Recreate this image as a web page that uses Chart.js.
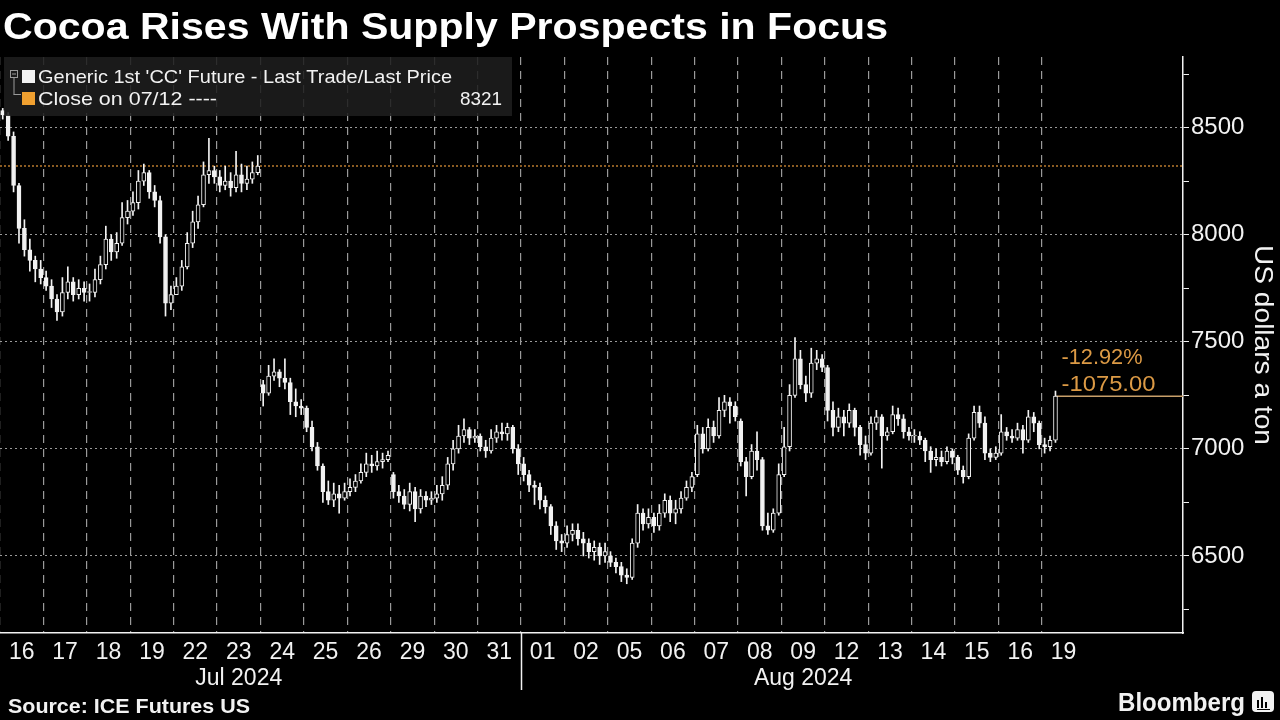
<!DOCTYPE html>
<html lang="en">
<head>
  <meta charset="UTF-8" />
  <title>Cocoa Rises With Supply Prospects in Focus</title>
  <script src="https://cdn.jsdelivr.net/npm/chart.js"></script>
  <style>
    html, body { margin: 0; padding: 0; background: #000; }
    #wrap { width: 1280px; height: 720px; }
  </style>
</head>
<body>
<div id="wrap"><canvas id="chart" width="1280" height="720"></canvas></div>
<script>
  // trading days on the x axis
  const dayLabels = ['16','17','18','19','22','23','24','25','26','29','30','31',
                     '01','02','05','06','07','08','09','12','13','14','15','16','19'];
  const monthLabels = ['Jul 2024', 'Aug 2024'];
  const monthFirstDay = [0, 12];
  const yTicks = [6250, 6500, 6750, 7000, 7250, 7500, 7750, 8000, 8250, 8500, 8750];
  const barsPerDay = 8;

  // intraday bars, one line per trading day
  const opens = [
    8580, 8560, 8460, 8230, 8030, 7930, 7880, 7840,
    7800, 7760, 7700, 7640, 7730, 7780, 7720, 7750,
    7730, 7730, 7790, 7860, 7980, 7920, 7960, 8080,
    8110, 8150, 8250, 8290, 8200, 8160, 7990, 7680,
    7720, 7760, 7850, 7960, 8060, 8140, 8280, 8300,
    8270, 8230, 8250, 8220, 8280, 8240, 8260, 8290,
    7300, 7260, 7340, 7360, 7330, 7310, 7220, 7200,
    7190, 7100, 7010, 6920, 6800, 6760, 6790, 6770,
    6800, 6820, 6850, 6890, 6930, 6920, 6940, 6950,
    6880, 6800, 6780, 6740, 6800, 6720, 6780, 6760,
    6770, 6790, 6830, 6930, 7000, 7060, 7090, 7050,
    7060, 7010, 6990, 7050, 7080, 7070, 7100, 7000,
    6930, 6880, 6830, 6820, 6760, 6730, 6640, 6570,
    6560, 6600, 6620, 6580, 6560, 6520, 6540, 6500,
    6500, 6470, 6450, 6410, 6400, 6560, 6700, 6650,
    6680, 6640, 6700, 6760, 6700, 6720, 6770, 6820,
    6880, 7070, 7000, 7100, 7060, 7180, 7220, 7200,
    7130, 6940, 6870, 6990, 6950, 6640, 6620, 6700,
    6880, 7010, 7250, 7420, 7300, 7260, 7400, 7420,
    7380, 7180, 7100, 7150, 7120, 7180, 7100, 7020,
    6980, 7120, 7150, 7060, 7080, 7160, 7140, 7080,
    7060, 7060, 7040, 6990, 6950, 6960, 6940, 6990,
    6960, 6900, 6870, 7050, 7170, 7120, 6980, 6960,
    6980, 7080, 7060, 7050, 7090, 7040, 7150, 7120,
    7020, 7010, 7040
  ];
  const highs = [
    8590, 8570, 8480, 8240, 8070, 7980, 7900, 7880,
    7830, 7790, 7720, 7800, 7850, 7800, 7790, 7780,
    7770, 7840, 7900, 8040, 8000, 8010, 8150, 8160,
    8200, 8300, 8330, 8300, 8230, 8180, 8000, 7760,
    7800, 7880, 8010, 8110, 8180, 8340, 8450, 8320,
    8300, 8320, 8290, 8390, 8330, 8320, 8340, 8370,
    7320, 7390, 7420, 7370, 7420, 7330, 7280, 7230,
    7200, 7130, 7030, 6930, 6850, 6840, 6830, 6840,
    6860, 6880, 6930, 6980, 6970, 6990, 6980, 6990,
    6890, 6830, 6810, 6840, 6820, 6810, 6800, 6800,
    6830, 6870, 6960, 7040, 7110, 7140, 7100, 7090,
    7070, 7040, 7090, 7110, 7120, 7120, 7110, 7020,
    6960, 6900, 6850, 6840, 6780, 6740, 6660, 6600,
    6640, 6650, 6650, 6610, 6580, 6570, 6560, 6560,
    6520, 6490, 6470, 6440, 6580, 6740, 6720, 6720,
    6700, 6740, 6790, 6780, 6760, 6800, 6850, 6890,
    7110, 7100, 7140, 7130, 7240, 7250, 7240, 7220,
    7140, 6960, 7020, 7080, 6960, 6700, 6720, 6930,
    7100, 7300, 7520, 7460, 7340, 7470, 7460, 7440,
    7390, 7220, 7190, 7180, 7210, 7190, 7110, 7060,
    7150, 7180, 7160, 7100, 7200, 7190, 7160, 7100,
    7090, 7080, 7050, 7010, 7000, 6990, 7010, 7000,
    6970, 6920, 7070, 7200, 7200, 7150, 7000, 7010,
    7160, 7100, 7090, 7120, 7110, 7180, 7170, 7130,
    7050, 7060, 7270
  ];
  const lows = [
    8540, 8440, 8200, 7960, 7900, 7830, 7780, 7770,
    7740, 7660, 7600, 7620, 7700, 7690, 7700, 7690,
    7690, 7710, 7770, 7840, 7880, 7890, 7950, 8050,
    8090, 8120, 8230, 8170, 8130, 7960, 7620, 7650,
    7720, 7740, 7840, 7940, 8030, 8130, 8240, 8240,
    8200, 8210, 8180, 8200, 8200, 8210, 8240, 8280,
    7200, 7250, 7320, 7290, 7280, 7160, 7150, 7160,
    7080, 6990, 6900, 6750, 6740, 6730, 6700, 6760,
    6780, 6800, 6840, 6870, 6890, 6900, 6910, 6940,
    6770, 6750, 6720, 6710, 6660, 6700, 6730, 6740,
    6750, 6760, 6810, 6900, 6980, 7030, 7020, 7030,
    6990, 6960, 6980, 7030, 7040, 7040, 6980, 6880,
    6850, 6800, 6740, 6720, 6700, 6600, 6530, 6520,
    6540, 6570, 6550, 6500, 6490, 6480, 6460, 6470,
    6450, 6420, 6380, 6370, 6390, 6540, 6620, 6630,
    6610, 6620, 6680, 6660, 6650, 6700, 6760, 6800,
    6870, 6980, 6990, 7030, 7050, 7150, 7120, 7130,
    6920, 6780, 6860, 6900, 6620, 6600, 6610, 6690,
    6870, 6990, 7240, 7280, 7220, 7240, 7370, 7360,
    7130, 7060, 7080, 7060, 7100, 7060, 6970, 6950,
    6970, 7090, 6910, 7040, 7070, 7110, 7050, 7040,
    7030, 7020, 6940, 6890, 6920, 6920, 6930, 6930,
    6880, 6840, 6860, 7040, 7100, 6950, 6940, 6950,
    6970, 7040, 7030, 7040, 6980, 7030, 7080, 7000,
    6980, 6990, 7030
  ];
  const closes = [
    8560, 8460, 8230, 8030, 7930, 7880, 7840, 7800,
    7760, 7700, 7640, 7730, 7780, 7720, 7750, 7730,
    7730, 7790, 7860, 7980, 7920, 7960, 8080, 8110,
    8150, 8250, 8290, 8200, 8160, 7990, 7680, 7720,
    7760, 7850, 7960, 8060, 8140, 8280, 8300, 8270,
    8230, 8250, 8220, 8280, 8240, 8260, 8290, 8320,
    7260, 7340, 7360, 7330, 7310, 7220, 7200, 7190,
    7100, 7010, 6920, 6800, 6760, 6790, 6770, 6800,
    6820, 6850, 6890, 6930, 6920, 6940, 6950, 6970,
    6800, 6780, 6740, 6800, 6720, 6780, 6760, 6770,
    6790, 6830, 6930, 7000, 7060, 7090, 7050, 7060,
    7010, 6990, 7050, 7080, 7070, 7100, 7000, 6930,
    6880, 6830, 6820, 6760, 6730, 6640, 6570, 6560,
    6600, 6620, 6580, 6560, 6520, 6540, 6500, 6520,
    6470, 6450, 6410, 6400, 6560, 6700, 6650, 6680,
    6640, 6700, 6760, 6700, 6720, 6770, 6820, 6870,
    7070, 7000, 7100, 7060, 7180, 7220, 7200, 7150,
    6940, 6870, 6990, 6950, 6640, 6620, 6700, 6880,
    7010, 7250, 7420, 7300, 7260, 7400, 7420, 7380,
    7180, 7100, 7150, 7120, 7180, 7100, 7020, 6980,
    7120, 7150, 7060, 7080, 7160, 7140, 7080, 7060,
    7060, 7040, 6990, 6950, 6960, 6940, 6990, 6960,
    6900, 6870, 7050, 7170, 7120, 6980, 6960, 6980,
    7080, 7060, 7050, 7090, 7040, 7150, 7120, 7020,
    7010, 7040, 7246
  ];
  const refClose = 8321;   // close on 07/12

  const FONT = "'Liberation Sans', Arial, sans-serif";
  const WHITE = '#f2f2f2';
  const ORANGE = '#dc9a45';
  const xMax = 27.25;
  const yMin = 6140, yMax = 8830;

  const xs = closes.map((_, k) => Math.floor(k / barsPerDay) + ((k % barsPerDay) + 0.5) / barsPerDay);
  const lastK = closes.length - 1;
  const lastClose = closes[lastK];

  function stretchText(ctx, text, x, y, width, font, color, align) {
    ctx.save();
    ctx.font = font;
    const w = ctx.measureText(text).width;
    let left = x;
    if (align === 'right') left = x - width;
    if (align === 'center') left = x - width / 2;
    ctx.translate(left, y);
    ctx.scale(width / w, 1);
    ctx.fillStyle = color;
    ctx.textAlign = 'left';
    ctx.textBaseline = 'alphabetic';
    ctx.fillText(text, 0, 0);
    ctx.restore();
  }

  function line(ctx, x1, y1, x2, y2) {
    ctx.beginPath();
    ctx.moveTo(x1, y1);
    ctx.lineTo(x2, y2);
    ctx.stroke();
  }

  const decor = {
    id: 'decor',
    afterDraw(chart) {
      const { ctx, chartArea: a } = chart;
      const x = chart.scales.x, y = chart.scales.y;
      ctx.save();

      // month separators and labels
      ctx.strokeStyle = WHITE;
      ctx.lineWidth = 1.5;
      ctx.font = '23px ' + FONT;
      ctx.fillStyle = WHITE;
      ctx.textAlign = 'center';
      ctx.textBaseline = 'alphabetic';
      monthLabels.forEach((m, i) => {
        const start = monthFirstDay[i];
        const end = i + 1 < monthFirstDay.length ? monthFirstDay[i + 1] : dayLabels.length;
        if (start > 0) {
          const px = Math.round(x.getPixelForValue(start)) + 0.5;
          line(ctx, px, a.bottom, px, a.bottom + 57);
        }
        const mid = start + Math.floor((end - start - 1) / 2) + 0.5;
        ctx.fillText(m, x.getPixelForValue(mid), 685);
      });

      // legend box
      ctx.fillStyle = 'rgba(30,30,30,0.88)';
      ctx.fillRect(4, 57, 508, 59);
      ctx.strokeStyle = '#9a9a9a';
      ctx.lineWidth = 1;
      ctx.strokeRect(10.5, 70.5, 7, 7);
      line(ctx, 12, 74, 16, 74);
      line(ctx, 14, 78, 14, 94.5);
      line(ctx, 13.5, 94.5, 21, 94.5);
      ctx.fillStyle = WHITE;
      ctx.fillRect(22, 70, 13, 13);
      ctx.fillStyle = '#f0a030';
      ctx.fillRect(22, 92, 13, 13);
      stretchText(ctx, "Generic 1st 'CC' Future - Last Trade/Last Price", 38, 83, 414, '19px ' + FONT, WHITE);
      stretchText(ctx, 'Close on 07/12 ----', 38, 105, 179, '19px ' + FONT, WHITE);
      stretchText(ctx, String(refClose), 502, 105, 42, '19px ' + FONT, WHITE, 'right');

      // change annotation
      const pct = ((lastClose - refClose) / refClose * 100).toFixed(2) + '%';
      const abs = (lastClose - refClose).toFixed(2);
      const ax = x.getPixelForValue(xs[lastK]) + 6;
      const ay = y.getPixelForValue(lastClose);
      stretchText(ctx, pct, ax, ay - 32, 81, '22px ' + FONT, ORANGE);
      stretchText(ctx, abs, ax, ay - 5, 94, '22px ' + FONT, ORANGE);

      // title, source, axis title, logo
      stretchText(ctx, 'Cocoa Rises With Supply Prospects in Focus', 3, 39, 885, 'bold 36px ' + FONT, '#ffffff');
      stretchText(ctx, 'Source: ICE Futures US', 8, 713, 242, 'bold 20px ' + FONT, WHITE);
      stretchText(ctx, 'Bloomberg', 1118, 711, 127, 'bold 25px ' + FONT, WHITE);

      ctx.save();
      ctx.translate(1263, 345);
      ctx.rotate(Math.PI / 2);
      stretchText(ctx, 'US dollars a ton', 0, 8, 200, '26px ' + FONT, WHITE, 'center');
      ctx.restore();

      // logo mark
      ctx.fillStyle = WHITE;
      ctx.beginPath();
      ctx.roundRect(1252, 691, 22, 21, 4);
      ctx.fill();
      ctx.fillStyle = '#000';
      ctx.fillRect(1257, 700, 2, 8);
      ctx.fillRect(1261, 697, 2, 11);
      ctx.fillRect(1265, 702, 2, 6);
      ctx.fillRect(1257, 709, 13, 1);

      ctx.restore();
    }
  };

  new Chart(document.getElementById('chart'), {
    type: 'bar',
    data: {
      datasets: [
        {
          label: 'body',
          data: closes.map((c, k) => ({ x: xs[k], y: [opens[k], c] })),
          backgroundColor: c => (c.dataIndex !== undefined && closes[c.dataIndex] >= opens[c.dataIndex]) ? '#000' : WHITE,
          borderColor: WHITE,
          borderWidth: 1,
          borderSkipped: false,
          barThickness: 4,
          minBarLength: 1,
          grouped: false,
          xAxisID: 'x', yAxisID: 'y'
        },
        {
          label: 'wick',
          data: closes.map((_, k) => ({ x: xs[k], y: [lows[k], highs[k]] })),
          backgroundColor: WHITE,
          barThickness: 1,
          grouped: false,
          xAxisID: 'x', yAxisID: 'y'
        },
        {
          type: 'line',
          label: 'last',
          data: [{ x: xs[lastK], y: lastClose }, { x: xMax, y: lastClose }],
          borderColor: '#c9a06a',
          borderWidth: 1.5,
          pointRadius: 0,
          fill: false,
          xAxisID: 'x', yAxisID: 'y'
        },
        {
          type: 'line',
          label: 'Close on 07/12',
          data: [{ x: 0, y: refClose }, { x: xMax, y: refClose }],
          borderColor: '#b87a2e',
          borderWidth: 1.5,
          borderDash: [2, 2],
          pointRadius: 0,
          fill: false,
          xAxisID: 'x', yAxisID: 'y'
        }
      ]
    },
    options: {
      responsive: false,
      animation: false,
      devicePixelRatio: 1,
      events: [],
      layout: { autoPadding: false, padding: { top: 57, left: 0, right: 0, bottom: 0 } },
      plugins: { legend: { display: false }, tooltip: { enabled: false } },
      scales: {
        x: {
          type: 'linear', axis: 'x', position: 'bottom', weight: 0,
          min: 0, max: xMax, offset: false,
          afterBuildTicks: s => { s.ticks = dayLabels.map((_, i) => ({ value: i })); },
          afterFit: s => { s.height = 0; },
          ticks: { display: false },
          grid: { display: true, drawTicks: false, offset: false, color: '#9a9a9a', lineWidth: 1.2 },
          border: { display: false, dash: [8, 6] }
        },
        xl: {
          type: 'linear', axis: 'x', position: 'bottom', weight: 1,
          min: 0, max: xMax, offset: false,
          afterBuildTicks: s => { s.ticks = dayLabels.map((_, i) => ({ value: i + 0.5 })); },
          afterFit: s => { s.height = 87; },
          ticks: {
            color: WHITE, padding: 6, maxRotation: 0, autoSkip: false,
            font: { family: FONT, size: 23 },
            callback: (v, i) => dayLabels[i]
          },
          grid: { display: false, drawTicks: false },
          border: { display: true, color: WHITE, width: 1.5 }
        },
        y: {
          type: 'linear', position: 'right',
          min: yMin, max: yMax, beginAtZero: false,
          afterBuildTicks: s => { s.ticks = yTicks.map(v => ({ value: v })); },
          afterFit: s => { s.width = 97; },
          ticks: {
            color: WHITE, padding: 2,
            font: { family: FONT, size: 24 },
            callback: v => (v % 500 === 0 ? String(v) : '')
          },
          grid: {
            color: c => (c.tick && c.tick.value % 500 === 0) ? '#9a9a9a' : 'rgba(0,0,0,0)',
            tickColor: WHITE, tickLength: 6, tickWidth: 1, lineWidth: 1
          },
          border: { display: true, color: WHITE, width: 1.5, dash: [2, 3] }
        }
      }
    },
    plugins: [decor]
  });
</script>
</body>
</html>
